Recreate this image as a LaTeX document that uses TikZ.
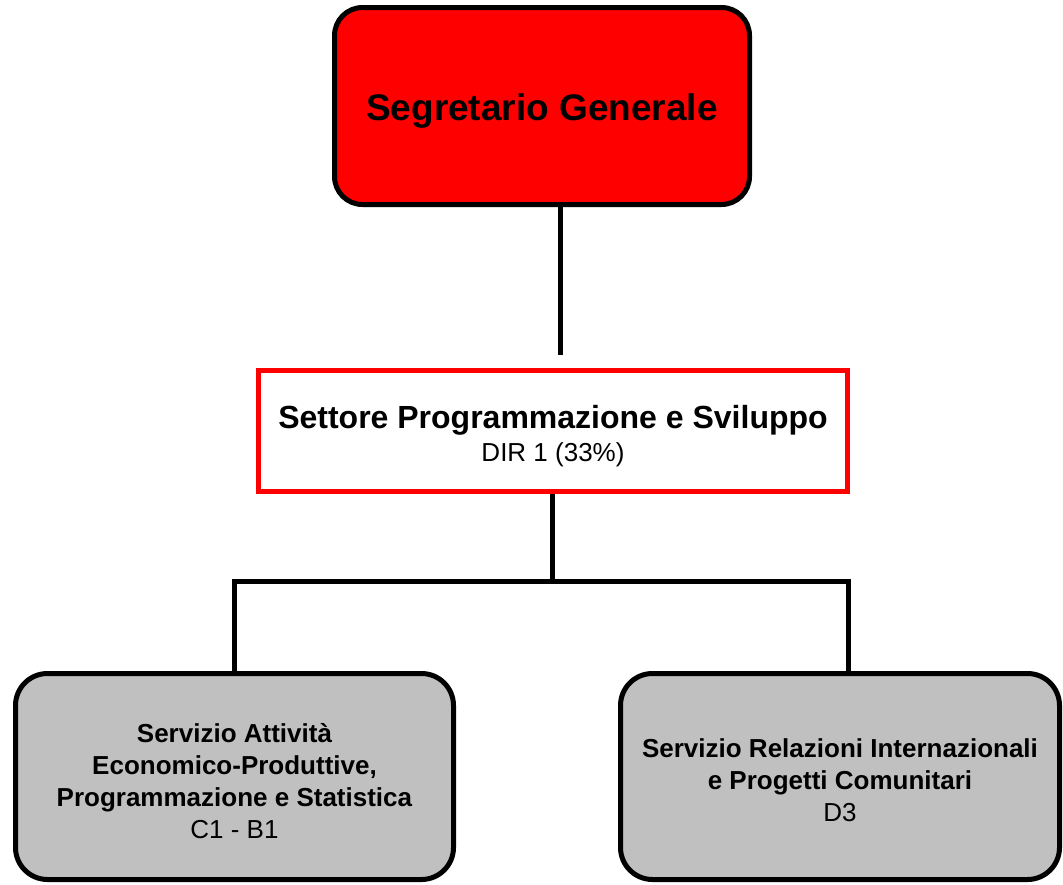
\documentclass[tikz,border=0pt]{standalone}
\usepackage{fontspec}
\setmainfont{Liberation Sans}
\usepackage{tikz}
\usetikzlibrary{positioning}
\definecolor{segretariored}{HTML}{FF0000}
\definecolor{serviziogray}{HTML}{C0C0C0}
% strut to push the text block a little down in its box
\newcommand{\primariga}[1]{\rule{0pt}{#1}}

\tikzset{
  capobox/.style={draw=black, line width=5pt, rounded corners=28pt, fill=segretariored, align=center},
  settorebox/.style={draw=segretariored, line width=5pt, fill=white, align=center},
  serviziobox/.style={draw=black, line width=5pt, rounded corners=32pt, fill=serviziogray, align=center, font=\fontsize{26}{32}\selectfont},
  orglink/.style={draw=black, line width=5pt},
}

\begin{document}
\begin{tikzpicture}[x=1pt, y=-1pt]
  \useasboundingbox (0,0) rectangle (1063,884);

  % Vertice (top)
  \node[capobox, minimum width=415pt, minimum height=197pt, font=\fontsize{37}{44}\selectfont\bfseries] (segretario) at (542,106) {\primariga{37pt}Segretario Generale};

  % Settore (middle)
  \node[settorebox, minimum width=589pt, minimum height=121pt, font=\fontsize{32}{33}\selectfont] (settore) at (553,431) {\primariga{34pt}\textbf{Settore Programmazione e Sviluppo}\\{\fontsize{26}{33}\selectfont DIR 1 (33\%)}};

  % Servizi (bottom)
  \node[serviziobox, minimum width=438pt, minimum height=206pt] (servizioA) at (234.5,776.5) {\primariga{29pt}\textbf{Servizio Attivit\`a}\\\textbf{Economico-Produttive,}\\\textbf{Programmazione e Statistica}\\C1 - B1};
  \node[serviziobox, minimum width=439pt, minimum height=206pt] (servizioB) at (840,776.5) {\primariga{26pt}\textbf{Servizio Relazioni Internazionali}\\\textbf{e Progetti Comunitari}\\D3};

  % Collegamenti
  \coordinate (segretariopiede) at (560,355);
  \coordinate (snodo) at (552.5,581.5);
  \draw[orglink] (segretario.south -| segretariopiede) -- (segretariopiede);
  \draw[orglink] (settore.south -| snodo) -- (snodo);
  \draw[orglink] (servizioA.north) |- (snodo) -| ([xshift=8pt]servizioB.north);
\end{tikzpicture}
\end{document}
